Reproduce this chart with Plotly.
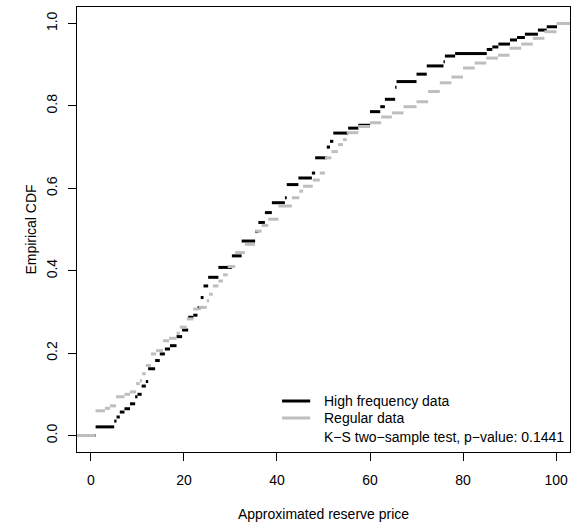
import plotly.graph_objects as go

# Empirical CDF knots (price where the step starts) and the CDF level after each jump
hf_knots = [1.0, 5.0, 5.5, 6.2, 7.2, 8.4, 9.5, 10.0, 10.9, 11.8, 12.3, 13.8, 14.8,
            15.9, 17.0, 18.4, 19.6, 20.9, 22.0, 22.9, 23.6, 24.2, 25.2, 27.4, 30.3,
            32.4, 35.3, 36.0, 37.4, 38.9, 41.7, 42.1, 44.6, 47.5, 48.2, 50.7, 51.4,
            52.1, 55.3, 57.5, 60.0, 62.2, 63.2, 65.4, 65.7, 70.0, 72.2, 75.8, 76.1,
            78.3, 85.1, 86.3, 87.6, 90.1, 91.6, 93.3, 96.1, 98.0, 100.2]
hf_levels = [0.021, 0.035, 0.045, 0.057, 0.065, 0.077, 0.094, 0.100, 0.120, 0.131,
             0.162, 0.182, 0.198, 0.210, 0.218, 0.240, 0.256, 0.287, 0.292, 0.310,
             0.335, 0.363, 0.384, 0.408, 0.436, 0.472, 0.495, 0.517, 0.541, 0.565,
             0.577, 0.609, 0.625, 0.637, 0.674, 0.700, 0.714, 0.734, 0.746, 0.753,
             0.786, 0.798, 0.816, 0.845, 0.859, 0.877, 0.897, 0.907, 0.921, 0.927,
             0.937, 0.943, 0.950, 0.960, 0.966, 0.974, 0.984, 0.992, 1.000]

reg_knots = [1.0, 3.0, 4.1, 5.4, 7.2, 8.4, 9.7, 10.5, 11.0, 11.8, 12.9, 14.0, 15.5,
             16.8, 18.4, 19.1, 20.6, 22.0, 23.2, 24.9, 25.4, 26.2, 27.4, 28.4, 29.4,
             31.0, 33.1, 35.3, 36.7, 38.1, 40.3, 43.2, 44.8, 45.6, 47.7, 49.2, 50.3,
             51.7, 53.1, 54.2, 55.0, 57.5, 60.0, 62.4, 64.7, 67.2, 70.0, 72.5, 75.0,
             77.5, 80.0, 82.5, 85.0, 87.5, 90.0, 92.5, 95.0, 97.5, 100.1]
reg_levels = [0.060, 0.066, 0.072, 0.094, 0.100, 0.106, 0.126, 0.133, 0.150, 0.170,
              0.198, 0.206, 0.230, 0.236, 0.248, 0.263, 0.283, 0.307, 0.311, 0.327,
              0.343, 0.363, 0.375, 0.390, 0.410, 0.444, 0.464, 0.496, 0.510, 0.525,
              0.557, 0.577, 0.593, 0.605, 0.620, 0.637, 0.674, 0.689, 0.706, 0.718,
              0.735, 0.750, 0.759, 0.773, 0.783, 0.798, 0.810, 0.835, 0.856, 0.870,
              0.892, 0.904, 0.916, 0.923, 0.940, 0.950, 0.964, 0.980, 1.000]

x_ticks = [0, 20, 40, 60, 80, 100]
y_ticks = [0.0, 0.2, 0.4, 0.6, 0.8, 1.0]
x_range = [-3, 103]
y_range = [-0.04, 1.04]

legend_labels = ["High frequency data", "Regular data",
                 "K\u2212S two\u2212sample test, p\u2212value: 0.1441"]
BLACK = "#000000"
GRAY = "#BEBEBE"
FONT = "Liberation Sans, Arial, Helvetica, sans-serif"
FSIZE = 14


def step_segments(knots, levels, lo, hi):
    """Horizontal pieces of a step function, separated by gaps (no verticals)."""
    xs, ys = [lo, knots[0], None], [0.0, 0.0, None]
    ends = knots[1:] + [hi]
    for k, e, lv in zip(knots, ends, levels):
        xs += [k, e, None]
        ys += [lv, lv, None]
    return xs, ys


fig = go.Figure()
for knots, levels, color in [(hf_knots, hf_levels, BLACK), (reg_knots, reg_levels, GRAY)]:
    xs, ys = step_segments(knots, levels, x_range[0], x_range[1])
    fig.add_trace(go.Scatter(x=xs, y=ys, mode="lines", connectgaps=False,
                             line=dict(color=color, width=3), hoverinfo="skip",
                             showlegend=False))

# Legend drawn inside the plotting region
leg_y = [0.1146, 0.0764, 0.0344]
for yy, color in zip(leg_y[:2], [BLACK, GRAY]):
    fig.add_shape(type="line", xref="paper", yref="paper", x0=0.416, x1=0.473,
                  y0=yy, y1=yy, line=dict(color=color, width=3))
for yy, txt in zip(leg_y, legend_labels):
    fig.add_annotation(xref="paper", yref="paper", x=0.496, y=yy, text=txt,
                       showarrow=False, xanchor="left", yanchor="middle",
                       font=dict(size=FSIZE, color="#000000", family=FONT))

axis_common = dict(showgrid=False, zeroline=False, showline=True, mirror=True,
                   linecolor="#000000", linewidth=1, ticks="outside", ticklen=8,
                   tickcolor="#000000", tickwidth=1,
                   tickfont=dict(size=FSIZE, color="#000000", family=FONT))

fig.update_xaxes(range=x_range, tickvals=x_ticks, ticktext=[str(v) for v in x_ticks],
                 ticklabelstandoff=7,
                 title=dict(text="Approximated reserve price", standoff=22,
                            font=dict(size=FSIZE, color="#000000", family=FONT)),
                 **axis_common)
fig.update_yaxes(range=y_range, tickvals=y_ticks, ticktext=[f"{v:.1f}" for v in y_ticks],
                 tickangle=-90, ticklabelstandoff=5,
                 title=dict(text="Empirical CDF", standoff=4,
                            font=dict(size=FSIZE, color="#000000", family=FONT)),
                 **axis_common)

fig.update_layout(width=572, height=529, margin=dict(l=77, r=2, t=7, b=77),
                  paper_bgcolor="#ffffff", plot_bgcolor="#ffffff",
                  font=dict(family=FONT, size=FSIZE, color="#000000"))

fig.write_html("out.html")
